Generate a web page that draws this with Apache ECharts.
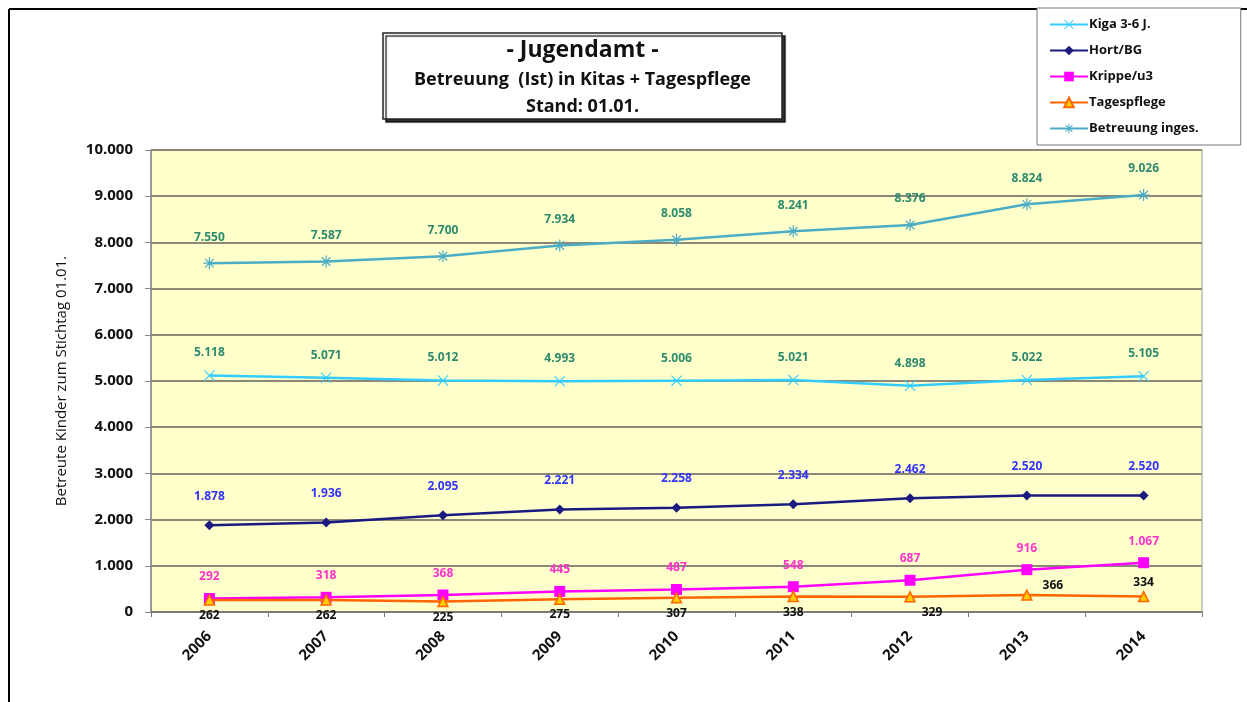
<!DOCTYPE html>
<html>
<head>
<meta charset="utf-8">
<script src="https://cdn.jsdelivr.net/npm/echarts@6/dist/echarts.min.js"></script>
<style>
  html, body { margin: 0; padding: 0; background: #fff; }
  #chart { width: 1247px; height: 702px; }
</style>
</head>
<body>
<div id="chart"></div>
<script>
// Jahre (Stichtag 01.01.)
const years = ['2006', '2007', '2008', '2009', '2010', '2011', '2012', '2013', '2014']
// Betreute Kinder je Bereich
const kiga = [5118, 5071, 5012, 4993, 5006, 5021, 4898, 5022, 5105]
const hort = [1878, 1936, 2095, 2221, 2258, 2334, 2462, 2520, 2520]
const krippe = [292, 318, 368, 445, 487, 548, 687, 916, 1067]
const tagespflege = [262, 262, 225, 275, 307, 338, 329, 366, 334]
const gesamt = [7550, 7587, 7700, 7934, 8058, 8241, 8376, 8824, 9026]
// y-Achse
const yTicks = [0, 1000, 2000, 3000, 4000, 5000, 6000, 7000, 8000, 9000, 10000]

const font = '"Open Sans", "Noto Sans", sans-serif'

// Zahlen mit Tausenderpunkt
function fmt(v) {
    return String(v).replace(/\B(?=(\d{3})+(?!\d))/g, '.')
}

// Label-Lage der Tagespflege-Punkte
const tpPos = ['bottom', 'bottom', 'bottom', 'bottom', 'bottom', 'bottom', 'bottom', 'top', 'top']
const tpOffset = [[0, 0], [0, 0], [0, 0], [0, 0], [0, 0], [0, 0], [22, 0], [26, 6], [0, 2]]

// Sternchen-Symbol (Betreuung inges.)
const starPath = 'path://M9,0h2v20h-2z M0,9h20v2h-20z M2.2,3.6l1.4,-1.4l14.2,14.2l-1.4,1.4z M16.4,2.2l1.4,1.4l-14.2,14.2l-1.4,-1.4z'
const crossPath = 'path://M1.4,0l8.6,8.6l8.6,-8.6l1.4,1.4l-8.6,8.6l8.6,8.6l-1.4,1.4l-8.6,-8.6l-8.6,8.6l-1.4,-1.4l8.6,-8.6l-8.6,-8.6z'

const chart = echarts.init(document.getElementById('chart'))

function labelStyle(color) {
    return {
        show: true,
        position: 'top',
        distance: 14,
        color: color,
        fontFamily: font,
        fontWeight: 'bold',
        fontSize: 12,
        formatter: p => fmt(p.value)
    }
}

const option = {
    backgroundColor: '#ffffff',
    animation: false,
    title: {
        left: 383,
        top: 28,
        padding: [6, 12, 4, 12],
        backgroundColor: '#ffffff',
        borderColor: '#222',
        borderWidth: 1.5,
        shadowColor: 'rgba(0,0,0,0.8)',
        shadowOffsetX: 3,
        shadowOffsetY: 3,
        shadowBlur: 1,
        text: '{a|- Jugendamt -}\n{b|Betreuung  (Ist) in Kitas + Tagespflege}\n{b|Stand: 01.01.}',
        textAlign: 'left',
        textStyle: {
            rich: {
                a: { fontFamily: font, fontWeight: 'bold', fontSize: 23, color: '#111', align: 'center', width: 375, lineHeight: 32 },
                b: { fontFamily: font, fontWeight: 'bold', fontSize: 18, color: '#111', align: 'center', width: 375, lineHeight: 27 }
            }
        }
    },
    legend: {
        orient: 'vertical',
        left: 1037,
        top: 8,
        padding: [10, 42, 10, 12],
        itemGap: 13,
        itemWidth: 38,
        itemHeight: 12,
        backgroundColor: '#ffffff',
        borderColor: '#777',
        borderWidth: 1,
        textStyle: { fontFamily: font, fontWeight: 'bold', fontSize: 13, color: '#111', padding: [0, 0, 0, -4] },
        data: ['Kiga 3-6 J.', 'Hort/BG', 'Krippe/u3', 'Tagespflege', 'Betreuung inges.']
    },
    grid: {
        left: 151,
        right: 45,
        top: 150,
        bottom: 90,
        show: true,
        backgroundColor: '#ffffcc',
        borderColor: '#999',
        borderWidth: 1
    },
    xAxis: {
        type: 'category',
        data: years,
        boundaryGap: true,
        axisLine: { lineStyle: { color: '#777', width: 1.5 } },
        axisTick: { show: true, length: 5, lineStyle: { color: '#777' } },
        axisLabel: {
            rotate: 45,
            margin: 22,
            color: '#111',
            fontFamily: font,
            fontWeight: 'bold',
            fontSize: 15
        }
    },
    yAxis: {
        type: 'value',
        min: yTicks[0],
        max: yTicks[yTicks.length - 1],
        interval: 1000,
        name: 'Betreute Kinder zum Stichtag 01.01.',
        nameLocation: 'middle',
        nameGap: 82,
        nameTextStyle: { fontFamily: font, fontWeight: 'normal', fontSize: 15, color: '#111' },
        axisLine: { show: true, lineStyle: { color: '#888', width: 1.5 } },
        axisTick: { show: true, length: 6, lineStyle: { color: '#888' } },
        splitLine: { lineStyle: { color: '#8c8878', width: 2 } },
        axisLabel: {
            margin: 18,
            color: '#111',
            fontFamily: font,
            fontWeight: 'bold',
            fontSize: 15,
            formatter: v => fmt(v)
        }
    },
    series: [
        {
            name: 'Kiga 3-6 J.',
            type: 'line',
            data: kiga,
            symbol: crossPath,
            symbolSize: 11,
            lineStyle: { color: '#33ccff', width: 2.5 },
            itemStyle: { color: '#33ccff' },
            label: Object.assign(labelStyle('#2e8b6e'), { distance: 11 }),
            z: 3
        },
        {
            name: 'Hort/BG',
            type: 'line',
            data: hort,
            symbol: 'diamond',
            symbolSize: 10,
            lineStyle: { color: '#1a1a80', width: 2.5 },
            itemStyle: { color: '#1a1a80' },
            label: Object.assign(labelStyle('#3333ff'), { distance: 18 }),
            z: 3
        },
        {
            name: 'Krippe/u3',
            type: 'line',
            data: krippe,
            symbol: 'rect',
            symbolSize: 11,
            lineStyle: { color: '#ff00ff', width: 2.5 },
            itemStyle: { color: '#ff00ff' },
            label: Object.assign(labelStyle('#ff33cc'), { distance: 10 }),
            z: 4
        },
        {
            name: 'Tagespflege',
            type: 'line',
            data: tagespflege.map((v, i) => ({
                value: v,
                label: { position: tpPos[i], offset: tpOffset[i] }
            })),
            symbol: 'triangle',
            symbolSize: 10,
            lineStyle: { color: '#ff6600', width: 2.5 },
            itemStyle: { color: '#ffcc00', borderColor: '#ff6600', borderWidth: 1.5 },
            label: Object.assign(labelStyle('#111'), { distance: 4 }),
            z: 5
        },
        {
            name: 'Betreuung inges.',
            type: 'line',
            data: gesamt,
            symbol: starPath,
            symbolSize: 12,
            lineStyle: { color: '#4bacc6', width: 2.5 },
            itemStyle: { color: '#4bacc6' },
            label: labelStyle('#2e8b6e'),
            z: 3
        }
    ],
    graphic: [
        { type: 'line', shape: { x1: 9, y1: 702, x2: 9, y2: 9 }, style: { stroke: '#000', lineWidth: 2 } },
        { type: 'line', shape: { x1: 9, y1: 9, x2: 1247, y2: 9 }, style: { stroke: '#000', lineWidth: 2 } }
    ]
}

chart.setOption(option)
</script>
</body>
</html>
